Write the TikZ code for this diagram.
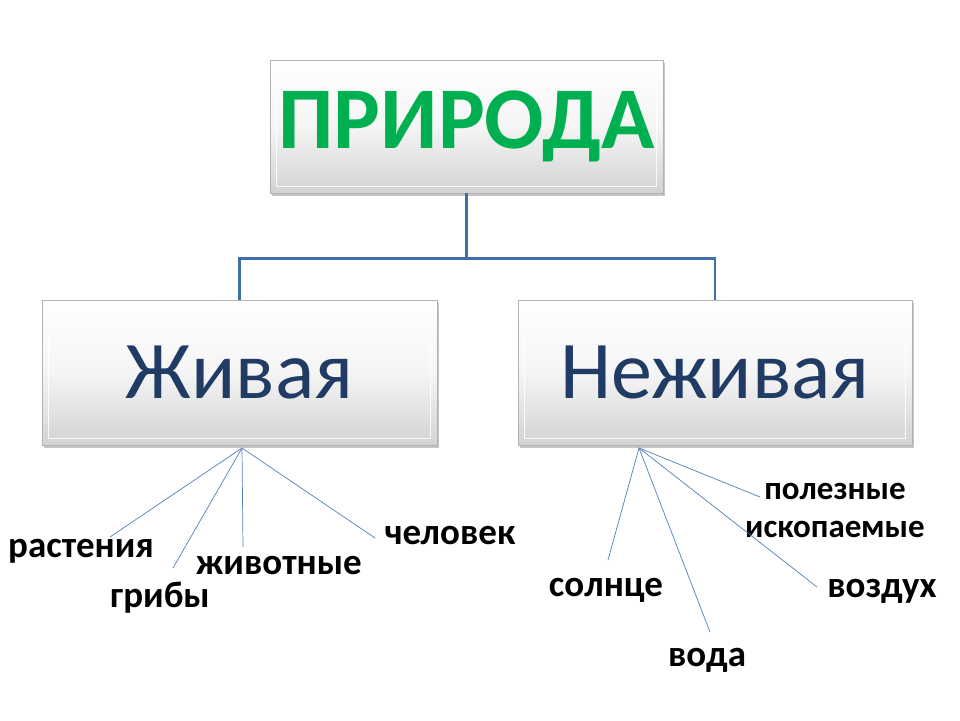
\documentclass[tikz,border=0pt]{standalone}
\usepackage{fontspec}
\setmainfont{Carlito}
\usetikzlibrary{shadows,calc}
\definecolor{natgreen}{RGB}{0,176,80}
\definecolor{boxtext}{RGB}{33,60,100}
\definecolor{linkblue}{RGB}{64,110,168}
\definecolor{spokeblue}{RGB}{79,129,189}
\begin{document}
\begin{tikzpicture}[x=1pt,y=-1pt,
  bevelbox/.style={rectangle, inner sep=0pt, draw=gray!60, line width=0.8pt,
    top color=white, bottom color=gray!35, middle color=gray!8,
    drop shadow={opacity=0.45, shadow xshift=2pt, shadow yshift=-3pt}},
  spoke/.style={spokeblue, line width=0.7pt},
  link/.style={linkblue, line width=2.2pt},
  leaf/.style={font=\bfseries\fontsize{37}{40}\selectfont, text=black, inner sep=0pt},
  smallleaf/.style={font=\bfseries\fontsize{33}{38}\selectfont, text=black, inner sep=0pt, align=center}]
\fill[white] (0,0) rectangle (960,720);
\useasboundingbox (0,0) rectangle (960,720);

\node[bevelbox, minimum width=393pt, minimum height=133pt] (top) at (466.5,126.5) {};
\node[text=natgreen, font=\bfseries\fontsize{88}{90}\selectfont] at (top) {ПРИРОДА};
\node[bevelbox, minimum width=395pt, minimum height=145pt] (live) at (239.5,372.5) {};
\node[text=boxtext, font=\fontsize{82}{86}\selectfont] at (live) {Живая};
\node[bevelbox, minimum width=394pt, minimum height=145pt] (nolive) at (715,372.5) {};
\node[text=boxtext, font=\fontsize{82}{86}\selectfont] at (nolive) {Неживая};

% inner bevel highlights
\foreach \b in {top,live,nolive}{
  \draw[white, line width=1pt, opacity=0.9] ($(\b.north west)+(7,7)$) rectangle ($(\b.south east)+(-7,-7)$);
}

\draw[link] (top.south) -- ++(0,65) coordinate (mid) -| (live.north);
\draw[link] (mid) -| (nolive.north);

\coordinate (hubL) at (242,448);
\coordinate (hubR) at (639,448);

\node[leaf] (rast) at (81,551) {растения};
\node[leaf] (grib) at (160,598) {грибы};
\node[leaf] (zhiv) at (279,566) {животные};
\node[leaf] (chel) at (450,536) {человек};

\node[smallleaf] (polez) at (835,510) {полезные\\ископаемые};
\node[leaf] (soln) at (606,590) {солнце};
\node[leaf] (voda) at (707,660) {вода};
\node[leaf] (vozd) at (882,591) {воздух};

\coordinate (eRast) at (110,537);
\coordinate (eGrib) at (173,568);
\coordinate (eZhiv) at (243,547);
\coordinate (eChel) at (375,538);
\coordinate (eSoln) at (608,560);
\coordinate (eVoda) at (710,632);
\coordinate (eVozd) at (817,587);
\coordinate (ePolez) at (760,497);

\foreach \e in {eRast,eGrib,eZhiv,eChel}{\draw[spoke] (hubL) -- (\e);}
\foreach \e in {eSoln,eVoda,eVozd,ePolez}{\draw[spoke] (hubR) -- (\e);}
\end{tikzpicture}
\end{document}
